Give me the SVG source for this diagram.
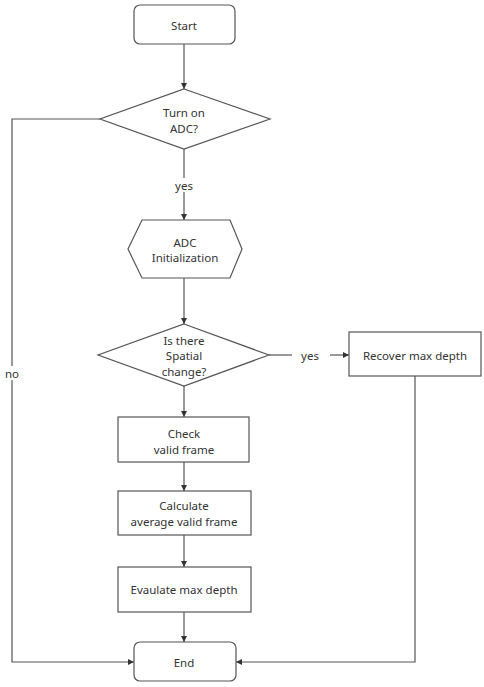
<svg xmlns="http://www.w3.org/2000/svg" width="484" height="687" viewBox="0 0 484 687">
<style>
.s{fill:#fff;stroke:#555;stroke-width:1.2}
.c{fill:none;stroke:#555;stroke-width:1.2}
text{font-family:"Noto Sans","Open Sans",sans-serif;font-size:11.5px;fill:#333;text-anchor:middle;dominant-baseline:central}
</style>
<defs>
<marker id="a" viewBox="0 0 8 8" refX="8" refY="4" markerWidth="6" markerHeight="6" orient="auto" markerUnits="userSpaceOnUse">
<path d="M0,0L8,4L0,8z" fill="#333"/>
</marker>
</defs>
<rect width="484" height="687" fill="#fff"/>
<g id="connectors">
<path class="c" d="M184,44V89" marker-end="url(#a)"/>
<path class="c" d="M184,149V220" marker-end="url(#a)"/>
<path class="c" d="M184,278V324" marker-end="url(#a)"/>
<path class="c" d="M184,386V417" marker-end="url(#a)"/>
<path class="c" d="M184,462V491" marker-end="url(#a)"/>
<path class="c" d="M184,535V567" marker-end="url(#a)"/>
<path class="c" d="M184,612V642" marker-end="url(#a)"/>
<path class="c" d="M100,119H12V662H134" marker-end="url(#a)"/>
<path class="c" d="M269,355H292"/>
<path class="c" d="M330,355H349" marker-end="url(#a)"/>
<path class="c" d="M415,376V662H236" marker-end="url(#a)"/>
<rect x="175" y="178" width="18" height="14" fill="#fff"/>
<text x="184" y="185">yes</text>
<text x="310" y="355">yes</text>
<rect x="4" y="366" width="16" height="14" fill="#fff"/>
<text x="12" y="373">no</text>
</g>
<g id="start">
<rect class="s" x="134" y="5" width="101" height="39" rx="6"/>
<text x="184" y="25">Start</text>
</g>
<g id="turn-on-adc">
<polygon class="s" points="184,89 270,119 184,149 100,119"/>
<text x="184" y="112">Turn on</text>
<text x="184" y="128">ADC?</text>
</g>
<g id="adc-init">
<polygon class="s" points="142,220 230,220 242,249 230,278 142,278 128,249"/>
<text x="185" y="242">ADC</text>
<text x="185" y="257">Initialization</text>
</g>
<g id="spatial-change">
<polygon class="s" points="184,324 269,355 184,386 98,355"/>
<text x="184" y="340">Is there</text>
<text x="184" y="355">Spatial</text>
<text x="184" y="371">change?</text>
</g>
<g id="recover">
<rect class="s" x="349" y="332" width="132" height="44"/>
<text x="415" y="355">Recover max depth</text>
</g>
<g id="check">
<rect class="s" x="118" y="417" width="131" height="45"/>
<text x="184" y="433">Check</text>
<text x="184" y="449">valid frame</text>
</g>
<g id="calculate">
<rect class="s" x="118" y="491" width="133" height="44"/>
<text x="184" y="505">Calculate</text>
<text x="184" y="521">average valid frame</text>
</g>
<g id="evaluate">
<rect class="s" x="118" y="567" width="133" height="45"/>
<text x="184" y="589">Evaulate max depth</text>
</g>
<g id="end">
<rect class="s" x="134" y="642" width="102" height="39" rx="6"/>
<text x="184" y="662">End</text>
</g>
</svg>
